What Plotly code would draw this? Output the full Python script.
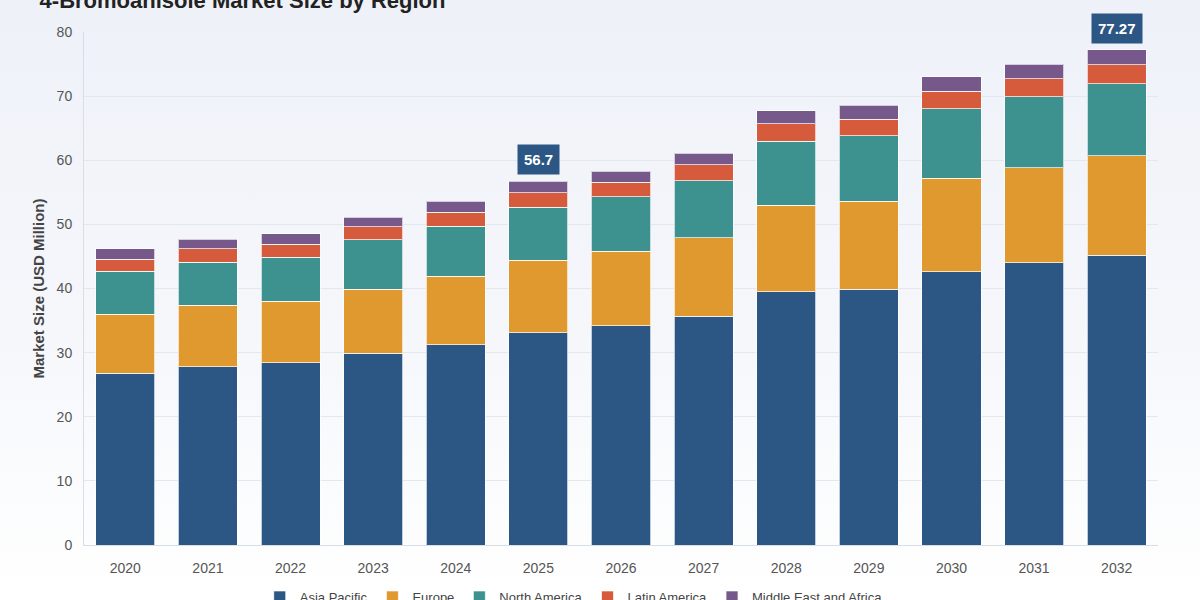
import plotly.graph_objects as go

years = ['2020', '2021', '2022', '2023', '2024', '2025', '2026',
         '2027', '2028', '2029', '2030', '2031', '2032']

asia_pacific = [26.8, 27.8, 28.4, 29.9, 31.2, 33.1, 34.2, 35.7, 39.5, 39.9, 42.6, 44.0, 45.2]
europe = [9.2, 9.6, 9.6, 10.0, 10.7, 11.3, 11.6, 12.2, 13.5, 13.7, 14.6, 14.8, 15.5]
north_america = [6.7, 6.7, 6.9, 7.7, 7.8, 8.3, 8.5, 8.9, 10.0, 10.2, 10.8, 11.1, 11.2]
latin_america = [1.9, 2.1, 2.0, 2.0, 2.2, 2.2, 2.3, 2.5, 2.7, 2.6, 2.8, 2.8, 3.0]
mea = [1.6, 1.5, 1.6, 1.5, 1.7, 1.8, 1.7, 1.8, 2.0, 2.2, 2.2, 2.3, 2.37]

regions = [('Asia Pacific', asia_pacific, '#2c5785'),
           ('Europe', europe, '#e0992f'),
           ('North America', north_america, '#3d918e'),
           ('Latin America', latin_america, '#d65a3c'),
           ('Middle East and Africa', mea, '#76598a')]

highlight_years = ['2025', '2032']

fig = go.Figure()
for name, values, color in regions:
    fig.add_trace(go.Bar(x=years, y=values, name=name,
                         marker=dict(color=color, line=dict(color='rgba(255,255,255,0.7)', width=1))))

# totals per year, labelled above the chosen bars
totals = [round(sum(v), 2) for v in zip(*[r[1] for r in regions])]
for yr in highlight_years:
    i = years.index(yr)
    fig.add_annotation(x=i, y=totals[i], text='<b>%g</b>' % totals[i], showarrow=False,
                       yanchor='bottom', yshift=6, bgcolor='#2c5785', borderpad=6,
                       font=dict(color='white', size=15))

fig.update_layout(
    width=1200, height=600,
    barmode='stack', bargap=0.285,
    paper_bgcolor='rgba(0,0,0,0)', plot_bgcolor='rgba(0,0,0,0)',
    font=dict(family='Liberation Sans, Arial, sans-serif', color='#555', size=13),
    title=dict(text='<b>4-Bromoanisole Market Size by Region</b>', x=0.033, xanchor='left',
               y=1.0, yanchor='middle', font=dict(size=22, color='#222')),
    margin=dict(l=84, r=42, t=32, b=55, autoexpand=False),
    xaxis=dict(type='category', showline=True, linecolor='#d8dde6', ticks='',
               ticklabelstandoff=10, tickfont=dict(size=14, color='#555')),
    yaxis=dict(title=dict(text='<b>Market Size (USD Million)</b>', font=dict(size=15, color='#444'), standoff=8),
               range=[0, 80], dtick=10, gridcolor='#e3e7ee', showline=True, linecolor='#d8dde6',
               zeroline=False, ticklabelstandoff=8, tickfont=dict(size=14, color='#555')),
    legend=dict(orientation='h', x=0.456, xanchor='center', yref='container', y=0.005, yanchor='middle',
                font=dict(size=13, color='#444'), traceorder='normal'),
)

fig.write_html("out.html", config={'displayModeBar': False},
               post_script="document.body.style.margin='0';"
                           "document.documentElement.style.background="
                           "'linear-gradient(180deg,#eef1f8 0%,#f5f7fb 55%,#ffffff 100%)';"
                           "document.documentElement.style.minHeight='100%';")
